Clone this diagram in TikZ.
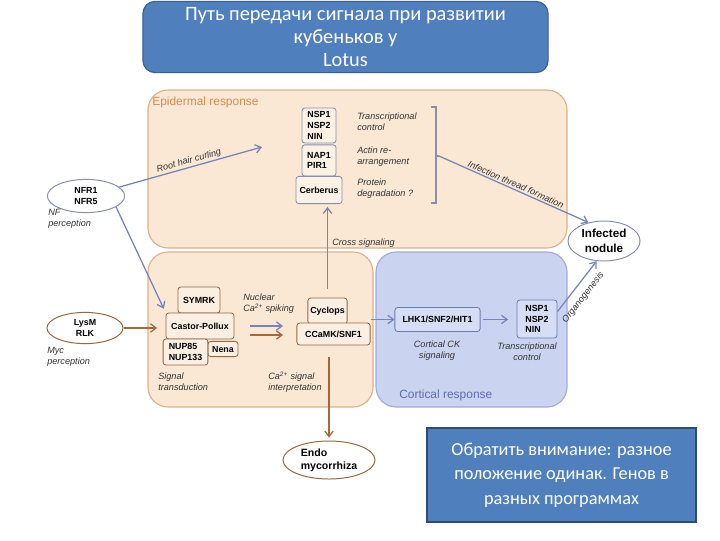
\documentclass[tikz,border=0pt]{standalone}
\usepackage{fontspec}
\setmainfont{Liberation Sans}
\newfontfamily\calfont{Carlito}
\usetikzlibrary{arrows.meta, positioning, shapes.geometric}

\definecolor{peach}{HTML}{FAE8D5}
\definecolor{peachline}{HTML}{D9B287}
\definecolor{lavender}{HTML}{CAD4F0}
\definecolor{lavline}{HTML}{9EACD8}
\definecolor{arrblue}{HTML}{7785B5}
\definecolor{arrbrown}{HTML}{A5683A}
\definecolor{titleblue}{HTML}{4F7FBD}
\definecolor{titleline}{HTML}{3A5F8F}
\definecolor{epitext}{HTML}{D48C50}
\definecolor{cortext}{HTML}{5E6DAE}
\definecolor{greyline}{HTML}{8A8EA8}
\definecolor{brownline}{HTML}{8E6A45}
\definecolor{bluebox}{HTML}{D6DEF5}
\definecolor{bluebline}{HTML}{6D7CAE}
\definecolor{lightpeach}{HTML}{FCF1E5}

\begin{document}
\begin{tikzpicture}[x=0.025cm, y=-0.025cm, >={Straight Barb[length=4pt, width=6pt]},
    every node/.style={font=\fontsize{6.5}{7.5}\selectfont},
    panel/.style={draw=peachline, fill=peach, line width=0.8pt, rounded corners=0.5cm},
    cortpanel/.style={draw=lavline, fill=lavender, line width=0.8pt, rounded corners=0.5cm},
    epibox/.style={draw=greyline, fill=lightpeach, line width=0.6pt, rounded corners=2pt,
        font=\fontsize{6.3}{7.6}\selectfont\bfseries, align=left, inner sep=1.5pt},
    sigbox/.style={epibox, draw=brownline, fill=peach!70!white},
    cortbox/.style={epibox, draw=bluebline, fill=bluebox},
    note/.style={font=\fontsize{6.5}{7.7}\selectfont\itshape, align=left, inner sep=0pt, text=black!80},
    zone/.style={font=\fontsize{8.5}{10}\selectfont, inner sep=0pt},
    recep/.style={ellipse, draw=greyline, fill=white, line width=0.7pt, inner sep=0pt,
        font=\fontsize{6.3}{7.3}\selectfont\bfseries, align=center},
    bluearr/.style={->, draw=arrblue, line width=0.9pt},
    brownarr/.style={->, draw=arrbrown, line width=0.9pt},
    slide/.style={draw=titleline, fill=titleblue, text=white, line width=0.8pt,
        font=\calfont\fontsize{14.5}{16.5}\selectfont, align=center}]
    \useasboundingbox (0,0) rectangle (720,540);

    % panels
    \draw[panel] (148,90) rectangle (567,248);
    \draw[panel] (148,252) rectangle (373,407);
    \draw[cortpanel] (376,252) rectangle (567,407);
    \node[zone, text=epitext, anchor=west] (epiLbl) at (152,102) {Epidermal response};
    \node[zone, text=cortext, anchor=west] (corLbl) at (399,395) {Cortical response};

    % title and remark
    \node[slide, minimum width=10.125cm, minimum height=1.78cm, rounded corners=0.3cm] (title) at (345.5,37)
        {Путь передачи сигнала при развитии\\кубеньков у\\Lotus};
    \node[slide, draw=titleline!80!black, minimum width=6.725cm, minimum height=2.35cm,
        font=\calfont\fontsize{13}{17.5}\selectfont] (hint) at (561.5,475)
        {Обратить внимание: разное\\положение одинак. Генов в\\разных программах};

    % epidermal genes
    \node[epibox, minimum width=0.85cm, minimum height=0.875cm] (nspE) at (319,125.5) {NSP1\\NSP2\\NIN};
    \node[epibox, minimum width=0.85cm, minimum height=0.78cm] (napE) at (319,160.5) {NAP1\\PIR1};
    \node[epibox, minimum width=1.15cm, minimum height=0.68cm] (cerb) at (319,190) {Cerberus};
    \node[note, anchor=west] (txE) at (357,122) {Transcriptional\\control};
    \node[note, anchor=west] (actE) at (357,157) {Actin re-\\arrangement};
    \node[note, anchor=west] (protE) at (357,189) {Protein\\degradation ?};

    % bracket
    \coordinate (brTop) at (436,107);
    \coordinate (brBot) at (436,203);
    \coordinate (brMid) at (439,156);
    \draw[greyline, line width=0.8pt] (431,107) -- (brTop) -- (brBot) -- (431,203);
    \draw[greyline, line width=0.8pt] (436,156) -- (brMid);

    % common symbiosis genes
    \node[sigbox, minimum width=1.05cm, minimum height=0.65cm] (symrk) at (199,300) {SYMRK};
    \node[sigbox, minimum width=1.7cm, minimum height=0.65cm] (castor) at (200,326) {Castor-Pollux};
    \node[sigbox, minimum width=0.75cm, minimum height=0.38cm] (nena) at (223,349) {Nena};
    \node[sigbox, minimum width=1.12cm, minimum height=0.65cm] (nup) at (185.5,352) {NUP85\\NUP133};
    \node[sigbox, minimum width=0.98cm, minimum height=0.65cm] (cyclops) at (327.5,311) {Cyclops};
    \node[sigbox, minimum width=1.83cm, minimum height=0.55cm] (ccamk) at (333.5,334) {CCaMK/SNF1};
    \node[note, anchor=west] (spike) at (243,304) {Nuclear\\Ca\textsuperscript{2+} spiking};
    \node[note, anchor=west] (interp) at (268,382) {Ca\textsuperscript{2+} signal\\interpretation};
    \node[note, anchor=west] (transd) at (158,382) {Signal\\transduction};

    % cortical genes
    \node[cortbox, minimum width=2.13cm, minimum height=0.6cm] (lhk) at (437.5,319.5) {LHK1/SNF2/HIT1};
    \node[cortbox, minimum width=1.0cm, minimum height=0.95cm] (nspC) at (537,319) {NSP1\\NSP2\\NIN};
    \node[note, align=center] (ckLbl) at (437,351) {Cortical CK\\signaling};
    \node[note, align=center] (txC) at (527,352) {Transcriptional\\control};

    % receptors and outcomes
    \node[recep, minimum width=1.93cm, minimum height=0.83cm] (nfr) at (86,196) {NFR1\\NFR5};
    \node[recep, draw=brownline, minimum width=1.9cm, minimum height=0.78cm] (lysm) at (85,328) {LysM\\RLK};
    \node[recep, minimum width=1.8cm, minimum height=1.0cm, font=\fontsize{8.3}{10.3}\selectfont\bfseries] (nodule) at (604,241) {Infected\\nodule};
    \node[recep, draw=brownline, minimum width=2.3cm, minimum height=0.95cm, align=left,
        font=\fontsize{7.5}{9}\selectfont\bfseries] (endo) at (329,460) {Endo\\mycorrhiza};
    \node[note, anchor=west] (nfLbl) at (48,219) {NF\\perception};
    \node[note, anchor=west] (mycLbl) at (47,357) {Myc\\perception};

    % arrows
    \coordinate (curlEnd) at (262,147);
    \draw[bluearr] (nfr.15) -- (curlEnd) node[midway, sloped, above=1pt, note] {Root hair curling};
    \draw[bluearr, shorten >=3pt] (nfr.-20) -- (castor.north west);
    \draw[brownarr, shorten >=6pt] (lysm.east) -- (lysm.east -| castor.west);
    \coordinate (spkB0) at (250,326);
    \coordinate (spkB1) at (283,326);
    \coordinate (spkR0) at (250,335);
    \coordinate (spkR1) at (283,335);
    \draw[bluearr] (spkB0) -- (spkB1);
    \draw[brownarr] (spkR0) -- (spkR1);
    \draw[bluearr, shorten <=6pt, shorten >=2pt] (cyclops.north) -- (cyclops.north |- cerb.south);
    \node[note, anchor=west] (crossLbl) at (332,243) {Cross signaling};
    \draw[brownarr, shorten <=8pt, shorten >=2pt] (endo.north |- ccamk.south) -- (endo.north);
    \draw[bluearr] (ccamk.east |- lhk.west) -- (lhk.west);
    \draw[bluearr, shorten <=2pt, shorten >=6pt] (lhk.east) -- (lhk.east -| nspC.west);
    \draw[bluearr] (brMid) -- (nodule.130) node[midway, sloped, above=1pt, note] {Infection thread formation};
    \draw[bluearr] (nspC.20) -- (nodule.250) node[pos=0.42, sloped, below=5pt, note] {Organogenesis};
\end{tikzpicture}
\end{document}
